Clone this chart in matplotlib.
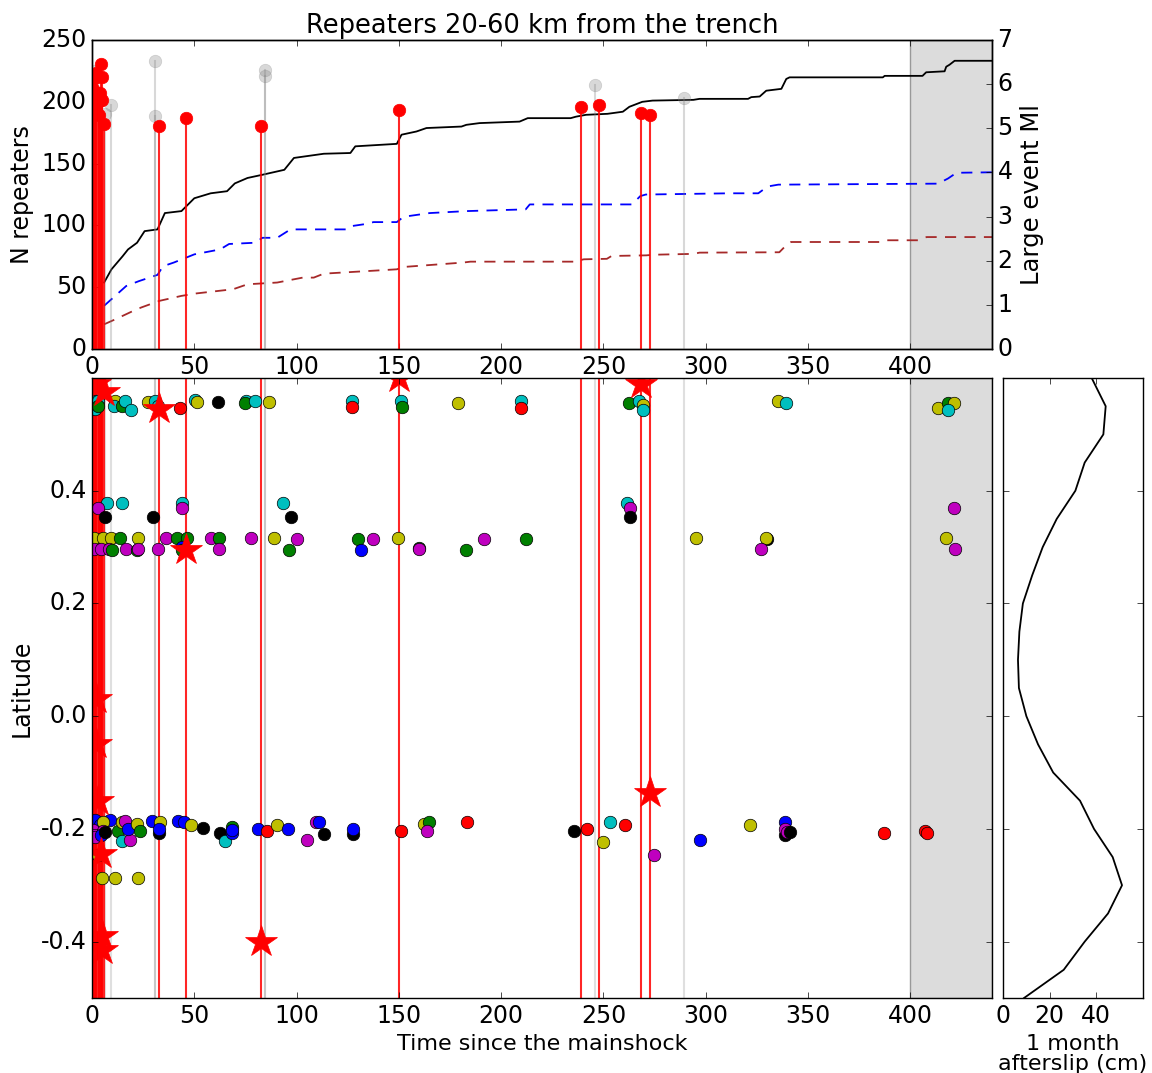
import matplotlib
matplotlib.use("Agg")
import matplotlib.pyplot as plt
import numpy as np

# cumulative repeater counts (day, count)
all_days = [5.9, 9.5, 14.9, 17.6, 22, 25.7, 32, 35.6, 43.7, 50, 58, 66, 69.8, 76, 83.3, 94,
            98.7, 113.3, 126.3, 128.7, 149, 151.3, 158.6, 163.5, 180.6, 183, 189.5, 209, 213,
            234, 236.6, 241.5, 252, 259.5, 262.7, 269, 274, 294, 297, 320.7, 322.3, 326.4,
            329.6, 337, 339.4, 341, 386.6, 387.5, 406, 407.8, 416.8, 417.6, 419.2, 421.7, 440]
all_count = [53.8, 64.5, 75, 80.6, 86, 95.4, 96.8, 110, 111.6, 122, 126, 127.7, 134, 138.4, 141, 145,
             154.6, 158, 158.6, 164, 166, 173.4, 176, 178.8, 180, 181.4, 182.8, 184, 186.8,
             186.8, 188, 189.5, 190.3, 192, 196, 200, 201, 201.6, 202.4, 202.4, 203.8, 204.3,
             209, 210.5, 218.5, 219.8, 219.8, 221, 221, 223.9, 224.7, 228.4, 230, 233.2, 233.2]

blue_days = [5.9, 11.3, 16.7, 23, 32, 34.7, 40, 50, 62.6, 67, 79.7, 83.3, 90.5, 97, 124.6, 127,
             134.4, 137.6, 149, 152.3, 165, 183, 212, 214, 264, 268, 270.7, 311.7, 325.7, 328.2,
             330.6, 335.5, 413.6, 418.5, 422.6, 440]
blue_count = [35, 43, 51, 55, 60, 67, 70, 76.6, 80.6, 85, 86, 90, 90, 96.8, 96.8, 99.5,
              101.3, 102.7, 102.7, 107, 110, 111.6, 113, 117, 117, 123.7, 125, 126, 126, 129,
              131.6, 133, 133.8, 138, 142.6, 143]

brown_days = [5.9, 11.3, 20.3, 24, 33, 43.7, 51, 69, 76, 90.5, 103, 108.4, 113.3, 149, 152.3,
              181.6, 185, 235.5, 240.4, 251.7, 254, 271, 274.5, 294, 297, 336, 338.8, 341.7,
              385, 388, 404, 406.7, 408, 440]
brown_count = [20, 24, 31, 33.6, 39, 43, 45, 48.4, 52.4, 53.8, 57.8, 57.8, 61, 64.5, 66.4,
               70, 70.7, 70.7, 72.6, 73, 75.3, 75.8, 76.3, 77, 78, 78.3, 83, 86.6,
               86.6, 88, 88, 89.8, 90.6, 90.6]

# large events: day, magnitude, latitude (nan = epicentre outside the window)
big_day = [0.5, 1.0, 1.3, 2.1, 2.1, 3.0, 3.5, 4.0, 4.6, 5.1, 5.1, 5.7,
           32.5, 46, 82.5, 150, 239, 248, 268.5, 273]
big_mag = [5.9, 5.45, 6.15, 6.25, 5.74, 5.6, 5.3, 5.8, 6.46, 6.17, 5.65, 5.1,
           5.05, 5.23, 5.05, 5.41, 5.48, 5.53, 5.35, 5.3]
big_lat = [np.nan, np.nan, 0.59, 0.03, -0.05, -0.15, np.nan, np.nan, -0.245, -0.39, -0.415, 0.575,
           0.545, 0.295, -0.40, 0.60, np.nan, np.nan, 0.59, -0.136]

# other (grey) events
grey_day = [1.0, 6.3, 9.5, 31, 31, 84.7, 84.7, 246, 289.5]
grey_mag = [6.3, 5.32, 5.53, 6.52, 5.27, 6.33, 6.19, 5.98, 5.69]

# repeating earthquakes: day, latitude, family colour
rep_day = [1.5, 2.3, 1.8, 3.1, 2.7, 11.2, 10.5, 14.5, 16, 19, 27.5, 30.8, 32.4, 43, 50.5, 51.2,
           61.5, 75.3, 74.8, 79.7, 86.5, 127, 127, 151, 151.5, 178.8, 209.8, 209.8, 262.7,
           267.6, 269.6, 269.3, 335.3, 339.4, 413.8, 418.4, 421.5, 418.4,
           7.2, 2.8, 6.4, 14.8, 30, 44.2, 44.2, 93.5, 97.3, 261.4, 263, 263, 421.2,
           1.1, 5.5, 9.3, 13.7, 22.3, 36.2, 41.4, 46.3, 58.2, 62.1, 77.8, 89.2, 100.1, 130.2,
           137.2, 149.8, 191.5, 212.2, 295.2, 330, 329.4, 417.6,
           1.1, 4.4, 8.5, 9.6, 16.4, 21.8, 22.6, 32.4, 44.2, 43.8, 62.1, 96.3, 131.4, 159.9,
           160, 182.7, 327.1, 422,
           1.5, 3.9, 8.8, 5.5, 0.6, 5.5, 1.5, 4.5, 6.5, 12.9, 14.5, 16.1, 14.5, 18.6, 17.8,
           22.2, 23.5, 29.2, 33.3, 32.9, 32.9, 42.2, 45, 48.2, 54.1, 62.6, 65, 68.3, 68.3,
           68.3, 81, 85.4, 90.6, 96, 105, 109.5, 111.2, 113.4, 127.5, 127.7, 151, 162.3,
           164.5, 163.6, 183.2, 235.7, 241.9, 253.3, 249.7, 260.8, 274.8, 297, 321.8, 338.9,
           338.9, 338.9, 339.7, 341.3, 387.3, 407.3, 408,
           3.1, 4.7, 11.2, 22.6, 30.5]
rep_lat = [0.545, 0.559, 0.559, 0.56, 0.55, 0.559, 0.55, 0.55, 0.559, 0.544, 0.558, 0.56, 0.55,
           0.547, 0.561, 0.558, 0.557, 0.56, 0.556, 0.56, 0.558, 0.56, 0.549, 0.56, 0.548,
           0.556, 0.56, 0.547, 0.555, 0.559, 0.553, 0.543, 0.559, 0.556, 0.547, 0.555, 0.556,
           0.543,
           0.378, 0.369, 0.353, 0.378, 0.353, 0.379, 0.369, 0.378, 0.354, 0.379, 0.369, 0.353,
           0.369,
           0.316, 0.316, 0.316, 0.316, 0.316, 0.316, 0.316, 0.316, 0.316, 0.316, 0.316, 0.316,
           0.314, 0.314, 0.314, 0.317, 0.314, 0.314, 0.317, 0.314, 0.316, 0.316,
           0.296, 0.296, 0.296, 0.294, 0.296, 0.294, 0.296, 0.296, 0.3, 0.294, 0.296, 0.294,
           0.294, 0.298, 0.296, 0.294, 0.296, 0.296,
           -0.184, -0.193, -0.184, -0.187, -0.202, -0.203, -0.215, -0.21, -0.205, -0.204,
           -0.187, -0.186, -0.222, -0.219, -0.2, -0.191, -0.204, -0.186, -0.187, -0.208, -0.2,
           -0.186, -0.187, -0.193, -0.199, -0.208, -0.222, -0.208, -0.196, -0.202, -0.2,
           -0.204, -0.193, -0.2, -0.219, -0.187, -0.187, -0.209, -0.209, -0.2, -0.204, -0.191,
           -0.188, -0.204, -0.187, -0.204, -0.2, -0.187, -0.223, -0.193, -0.246, -0.22, -0.193,
           -0.188, -0.211, -0.2, -0.206, -0.206, -0.208, -0.204, -0.208,
           -0.246, -0.287, -0.287, -0.287, -0.287]
rep_col = list("ckccgycgccyccrcykcgcyc" "rcgycrgcycycygyc") + \
    list("cmkckcmckcmkm") + \
    list("yyygymggmgmymgmymgykyy") + \
    list("mmmgmgmmbgmgbgmgmm") + \
    list("bbbymmmbkgymcmbygbykbbbykkcbgbbrybmmbkkbrygmrkrcyrmbybkmmkrr") + \
    list("ryyyy")

# 1 month afterslip profile
slip_lat = [0.60, 0.55, 0.50, 0.45, 0.40, 0.35, 0.30, 0.25, 0.20, 0.15, 0.10, 0.05, 0.00,
            -0.05, -0.10, -0.15, -0.20, -0.25, -0.30, -0.35, -0.40, -0.45, -0.50]
slip_cm = [38, 44, 43, 35, 31, 23, 17, 12.5, 8.5, 7, 6.4, 6.8, 10,
           15, 21.5, 33, 39, 47, 51, 45, 35, 26, 9]

plt.style.use("classic")
plt.rcParams["font.size"] = 16
plt.rcParams["xtick.labelsize"] = 17
plt.rcParams["ytick.labelsize"] = 17
plt.rcParams["axes.unicode_minus"] = False
plt.rcParams["font.family"] = ["DejaVu Sans"]

fig = plt.figure(figsize=(11.52, 10.73), dpi=100, facecolor="white")
ax_top = fig.add_axes([0.0799, 0.6747, 0.78125, 0.288])
ax_mag = ax_top.twinx()
ax_lat = fig.add_axes([0.0799, 0.0699, 0.78125, 0.5778])
ax_slip = fig.add_axes([0.8707, 0.0699, 0.1215, 0.5778])

brown = (0.65, 0.16, 0.16)

# top panel
ax_top.axvspan(400, 440, facecolor="#dcdcdc", edgecolor="0.6", lw=1)
ax_top.plot(all_days, all_count, color="k", lw=1.3)
ax_top.plot(blue_days, blue_count, "--", color="b", lw=1.3, dashes=(8, 6))
ax_top.plot(brown_days, brown_count, "--", color=brown, lw=1.3, dashes=(8, 6))
ax_top.set_xlim(0, 440)
ax_top.set_ylim(0, 250)
ax_top.set_xticks(np.arange(0, 401, 50))
ax_top.set_ylabel("N repeaters", fontsize=17)
ax_top.set_title("Repeaters 20-60 km from the trench", fontsize=18.5)

for d, m in zip(grey_day, grey_mag):
    ax_mag.plot([d, d], [0, m], color="0.5", alpha=0.3, lw=1.5)
    ax_mag.plot(d, m, "o", color="0.5", mec="0.5", alpha=0.3, ms=9)
for d, m in zip(big_day, big_mag):
    ax_mag.plot([d, d], [0, m], color="r", lw=1.5, alpha=0.85)
    ax_mag.plot(d, m, "o", color="r", mec="r", ms=9)
ax_mag.set_ylim(0, 7)
ax_mag.set_xlim(0, 440)
ax_mag.set_ylabel("Large event Ml", fontsize=17.5)

# latitude vs time panel
ax_lat.axvspan(400, 440, facecolor="#dcdcdc", edgecolor="0.6", lw=1)
for d in grey_day:
    ax_lat.axvline(d, color="0.5", alpha=0.25, lw=1.5)
for d in big_day:
    ax_lat.axvline(d, color="r", alpha=0.85, lw=1.5)
for d, la, c in zip(rep_day, rep_lat, rep_col):
    ax_lat.plot(d, la, "o", color=c, mec="k", ms=9)
ax_lat.plot(big_day, big_lat, "*", color="r", mec="r", ms=24, ls="none")
ax_lat.set_xlim(0, 440)
ax_lat.set_ylim(-0.5, 0.6)
ax_lat.set_xticks(np.arange(0, 401, 50))
ax_lat.set_yticks([-0.4, -0.2, 0.0, 0.2, 0.4])
ax_lat.set_xlabel("Time since the mainshock")
ax_lat.set_ylabel("Latitude", fontsize=17)

# afterslip panel
ax_slip.plot(slip_cm, slip_lat, color="k", lw=1.3)
ax_slip.set_ylim(-0.5, 0.6)
ax_slip.set_yticks([-0.4, -0.2, 0.0, 0.2, 0.4])
ax_slip.set_yticklabels([])
ax_slip.set_xlim(0, 60)
ax_slip.set_xticks([0, 20, 40])
ax_slip.set_xlabel("1 month\nafterslip (cm)", linespacing=1.0)

fig.savefig("out.png", dpi=100, facecolor="white")
